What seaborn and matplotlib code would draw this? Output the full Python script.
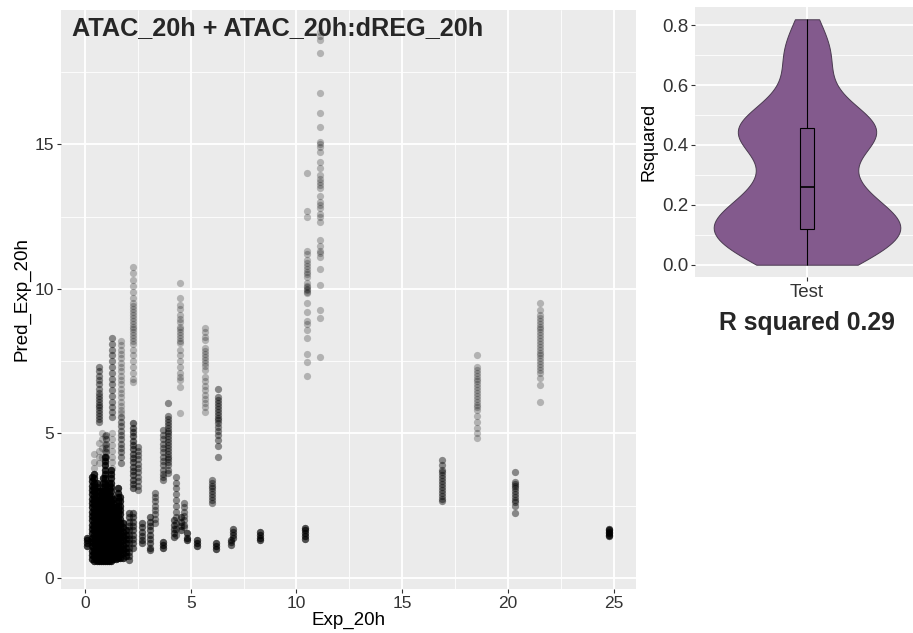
import matplotlib
matplotlib.use("Agg")
import matplotlib.pyplot as plt
from matplotlib.ticker import MultipleLocator
import numpy as np
import pandas as pd
import seaborn as sns

# columns of points: x position (Exp_20h), predicted values, stacked repeats
col_x = [
    0.10, 0.35, 0.45, 0.55, 0.65, 0.75, 0.85, 0.95, 1.05, 1.15, 1.25, 1.35,
    1.45, 1.55, 1.65, 1.80, 1.95,
    0.45, 0.80, 0.95,
    0.68, 0.68, 1.02, 1.29, 1.29, 1.69, 1.69, 2.10, 2.29, 2.29, 2.29,
    2.52, 2.68, 3.10, 3.31, 3.70, 3.70, 3.94, 4.20, 4.30, 4.49, 4.52, 4.70,
    4.81, 5.28, 5.67, 5.99, 6.18, 6.30, 6.90, 7.00, 8.30, 10.40, 10.48,
    11.10, 16.90, 18.52, 20.33, 21.50, 24.79,
]
col_y = [
    [1.1, 1.2, 1.3, 1.4],
    [0.65, 0.8, 0.95, 1.1, 1.25, 1.4, 1.55, 1.7, 1.85, 2.0, 2.15, 2.3, 2.45, 2.6, 2.75, 2.9, 3.05, 3.2, 3.35, 3.5],
    [0.6, 0.75, 0.9, 1.05, 1.2, 1.35, 1.5, 1.65, 1.8, 1.95, 2.1, 2.25, 2.4, 2.55, 2.7, 2.85, 3.0, 3.15, 3.3, 3.45, 3.6],
    [0.6, 0.75, 0.9, 1.05, 1.2, 1.35, 1.5, 1.65, 1.8, 1.95, 2.1, 2.25, 2.4, 2.55, 2.7, 2.85, 3.0, 3.15, 3.3],
    [0.6, 0.75, 0.9, 1.05, 1.2, 1.35, 1.5, 1.65, 1.8, 1.95, 2.1, 2.25, 2.4, 2.55, 2.7, 2.85, 3.0],
    [0.6, 0.75, 0.9, 1.05, 1.2, 1.35, 1.5, 1.65, 1.8, 1.95, 2.1, 2.25, 2.4, 2.55, 2.7],
    [0.6, 0.75, 0.9, 1.05, 1.2, 1.35, 1.5, 1.65, 1.8, 1.95, 2.1, 2.25, 2.4, 2.55, 2.7, 2.85, 3.0, 3.15, 3.3, 3.45],
    [0.6, 0.75, 0.9, 1.05, 1.2, 1.35, 1.5, 1.65, 1.8, 1.95, 2.1, 2.25, 2.4, 2.55, 2.7, 2.85, 3.0, 3.15, 3.3, 3.45, 3.6, 3.75, 3.9, 4.05, 4.2],
    [0.6, 0.75, 0.9, 1.05, 1.2, 1.35, 1.5, 1.65, 1.8, 1.95, 2.1, 2.25, 2.4, 2.55, 2.7, 2.85, 3.0],
    [0.6, 0.75, 0.9, 1.05, 1.2, 1.35, 1.5, 1.65, 1.8, 1.95, 2.1, 2.25, 2.4, 2.55, 2.7, 2.85, 3.0, 3.15, 3.3],
    [0.6, 0.75, 0.9, 1.05, 1.2, 1.35, 1.5, 1.65, 1.8, 1.95, 2.1, 2.25, 2.4, 2.55, 2.7, 2.85, 3.0, 3.15, 3.3, 3.45, 3.6, 3.75],
    [0.65, 0.8, 0.95, 1.1, 1.25, 1.4, 1.55, 1.7, 1.85, 2.0, 2.15, 2.3, 2.45, 2.6, 2.75],
    [0.65, 0.8, 0.95, 1.1, 1.25, 1.4, 1.55, 1.7, 1.85, 2.0, 2.15, 2.3, 2.45],
    [0.7, 0.85, 1.0, 1.15, 1.3, 1.45, 1.6, 1.75, 1.9, 2.05, 2.2, 2.35, 2.5, 2.65, 2.8, 2.95, 3.1],
    [0.7, 0.85, 1.0, 1.15, 1.3, 1.45, 1.6, 1.75, 1.9, 2.05, 2.2, 2.35, 2.5, 2.65, 2.8],
    [0.7, 0.85, 1.0, 1.15, 1.3, 1.45, 1.6, 1.75, 1.9],
    [0.75, 0.9, 1.05, 1.2, 1.35, 1.5, 1.65],
    [3.8, 4.0, 4.3],
    [4.2, 4.5, 4.8, 5.0],
    [4.4, 4.6, 4.9],
    [7.3, 7.15, 7.0, 6.85, 6.7, 6.55, 6.4, 6.3, 6.2, 6.1, 6.0, 5.9, 5.8, 5.7, 5.6, 5.5, 5.4],
    [4.67, 4.4, 4.2, 3.97],
    [4.95, 4.8, 4.65, 4.5, 4.35, 4.2],
    [8.3, 8.1, 7.9, 7.7, 7.5, 7.3, 7.1, 6.9, 6.7, 6.5, 6.3, 6.1, 5.9, 5.75, 5.57],
    [5.0, 4.8, 4.6, 4.4, 4.2, 4.0, 3.8],
    [8.2, 8.05, 7.9, 7.75, 7.6, 7.45, 7.3, 7.15, 7.0, 6.85, 6.7, 6.55, 6.4, 6.25, 6.1, 5.95, 5.8, 5.7],
    [5.57, 5.4, 5.25, 5.1, 4.95, 4.8, 4.65, 4.5, 4.35, 4.2, 3.97],
    [2.25, 2.1, 1.95, 1.8, 1.65, 1.5, 1.35, 1.2, 1.05, 0.9, 0.75, 0.62],
    [10.75, 10.55, 10.3, 10.1, 9.9, 9.7, 9.5, 9.4, 9.3, 9.2, 9.1, 9.0, 8.9, 8.8, 8.7, 8.6, 8.5, 8.4, 8.3, 8.2, 8.1, 7.9, 7.7, 7.5, 7.3, 7.1, 6.9, 6.78],
    [5.36, 5.2, 5.05, 4.9, 4.75, 4.6, 4.45, 4.3, 4.15, 4.0, 3.85, 3.7, 3.55, 3.4, 3.25, 3.1],
    [2.25, 2.1, 1.95, 1.8, 1.65, 1.5, 1.35, 1.2, 1.05],
    [4.53, 4.4, 4.25, 4.1, 3.95, 3.8, 3.65, 3.5, 3.35, 3.2, 3.04],
    [1.9, 1.75, 1.6, 1.45, 1.3, 1.2],
    [2.1, 1.95, 1.8, 1.65, 1.5, 1.35, 1.2, 1.05, 0.97],
    [2.94, 2.8, 2.65, 2.5, 2.35, 2.2, 2.05, 1.9],
    [5.12, 4.95, 4.8, 4.65, 4.5, 4.35, 4.2, 4.05, 3.9, 3.75, 3.6, 3.5, 3.39],
    [1.05, 1.15, 1.25],
    [6.05, 5.6, 5.5, 5.4, 5.3, 5.2, 5.1, 5.0, 4.9, 4.8, 4.7, 4.6, 4.5, 4.4, 4.3, 4.2, 4.1, 4.0, 3.9, 3.75, 3.63],
    [2.0, 1.85, 1.7, 1.55, 1.42],
    [3.5, 3.3, 3.1, 2.9, 2.7, 2.5, 2.3, 2.1, 1.9, 1.7, 1.5],
    [10.2, 9.69, 9.45, 9.3, 9.1, 8.95, 8.86, 8.69, 8.6, 8.5, 8.4, 8.3, 8.2, 8.13, 7.89, 7.7, 7.5, 7.3, 7.1, 6.95, 6.85, 6.6, 5.71],
    [2.1, 1.95, 1.8, 1.66],
    [2.6, 2.45, 2.3, 2.15, 2.0, 1.85, 1.76],
    [1.3, 1.4, 1.55],
    [1.1, 1.2, 1.3],
    [8.65, 8.5, 8.35, 8.24, 7.96, 7.85, 7.75, 7.65, 7.55, 7.45, 7.35, 7.2, 6.96, 6.8, 6.65, 6.5, 6.33, 6.2, 6.05, 5.9, 5.74],
    [3.39, 3.3, 3.2, 3.1, 3.0, 2.9, 2.8, 2.7, 2.6],
    [1.0, 1.1, 1.2],
    [6.54, 6.26, 6.15, 6.05, 5.95, 5.85, 5.75, 5.65, 5.55, 5.45, 5.36, 5.22, 5.1, 4.95, 4.78, 4.57, 4.19],
    [1.15, 1.25, 1.3],
    [1.4, 1.5, 1.6, 1.7],
    [1.3, 1.4, 1.5, 1.58],
    [1.35, 1.45, 1.55, 1.65, 1.72],
    [14.0, 12.7, 12.5, 11.3, 11.2, 11.0, 10.9, 10.8, 10.7, 10.6, 10.5, 10.4, 10.2, 10.1, 10.05, 10.0, 9.95, 9.9, 9.86, 9.5, 9.2, 8.9, 8.8, 8.58, 8.3, 7.75, 7.47, 7.0],
    [18.9, 18.75, 18.6, 18.17, 16.78, 16.1, 15.6, 15.1, 15.0, 14.9, 14.75, 14.4, 14.2, 13.95, 13.8, 13.7, 13.6, 13.5, 13.2, 13.0, 12.9, 12.8, 12.6, 12.5, 12.3, 11.7, 11.5, 11.3, 11.24, 11.1, 10.7, 10.14, 9.27, 9.0, 7.65],
    [4.08, 3.9, 3.75, 3.65, 3.55, 3.45, 3.35, 3.25, 3.15, 3.05, 2.95, 2.85, 2.75, 2.65],
    [7.72, 7.3, 7.2, 7.1, 7.0, 6.9, 6.8, 6.7, 6.6, 6.5, 6.4, 6.3, 6.2, 6.1, 6.0, 5.9, 5.8, 5.6, 5.4, 5.2, 5.0, 4.84],
    [3.67, 3.32, 3.25, 3.2, 3.1, 3.0, 2.9, 2.8, 2.7, 2.63, 2.5, 2.25],
    [9.5, 9.27, 9.1, 9.0, 8.9, 8.8, 8.7, 8.6, 8.5, 8.4, 8.3, 8.2, 8.1, 8.0, 7.9, 7.8, 7.7, 7.6, 7.5, 7.4, 7.3, 7.2, 7.1, 6.92, 6.68, 6.09],
    [1.45, 1.5, 1.55, 1.6, 1.65, 1.7],
]
col_n = [
    5, 6, 6, 6, 6, 6, 6, 6, 6, 6, 6, 6,
    6, 6, 6, 6, 5,
    1, 1, 1,
    2, 1, 2, 2, 1, 1, 2, 3, 1, 3, 3,
    2, 3, 3, 2, 2, 4, 2, 3, 2, 1, 3, 2,
    4, 4, 1, 2, 4, 2, 3, 3, 4, 4, 1,
    1, 2, 1, 2, 1, 4,
]

# per-fold R squared values for the violin
rsq = [0.0, 0.0, 0.01, 0.02, 0.03, 0.04, 0.06, 0.07, 0.08, 0.09, 0.10, 0.11, 0.115, 0.12,
       0.124, 0.13, 0.14, 0.145, 0.15, 0.16, 0.17, 0.18, 0.19, 0.20, 0.22, 0.24, 0.255,
       0.265, 0.28, 0.30, 0.33, 0.36, 0.38, 0.40, 0.41, 0.42, 0.43, 0.44, 0.445, 0.45,
       0.46, 0.47, 0.48, 0.49, 0.50, 0.52, 0.55, 0.58, 0.62, 0.67, 0.70, 0.72, 0.76, 0.82]

rows = []
for x, ys, n in zip(col_x, col_y, col_n):
    for _ in range(n):
        for y in ys:
            rows.append((x, y))
df = pd.DataFrame(rows, columns=["Exp_20h", "Pred_Exp_20h"])
df_r = pd.DataFrame({"group": ["Test"] * len(rsq), "Rsquared": rsq})

sns.set_theme(style="darkgrid", rc={
    "axes.facecolor": "#EBEBEB",
    "grid.color": "white",
    "axes.edgecolor": "#EBEBEB",
})
plt.rcParams["font.family"] = ["Liberation Sans", "DejaVu Sans"]

fig = plt.figure(figsize=(9.13, 6.33), dpi=100)
ax = fig.add_axes([61 / 913, 1 - 588.7 / 633, 575 / 913, 578.7 / 633])
ax2 = fig.add_axes([695 / 913, 1 - 277 / 633, 224 / 913, 270 / 633])

# scatter
sns.scatterplot(data=df, x="Exp_20h", y="Pred_Exp_20h", ax=ax, color="black",
                alpha=0.24, s=27, linewidth=0, zorder=3)
ax.set_xlim(-1.13, 26.05)
ax.set_ylim(-0.37, 19.65)
ax.xaxis.set_major_locator(MultipleLocator(5))
ax.yaxis.set_major_locator(MultipleLocator(5))
ax.xaxis.set_minor_locator(MultipleLocator(2.5))
ax.yaxis.set_minor_locator(MultipleLocator(2.5))
ax.grid(which="major", color="white", linewidth=1.3)
ax.grid(which="minor", color="white", linewidth=0.6)
ax.tick_params(axis="both", which="major", length=3, width=0.8, color="#333333",
               labelsize=12.5, labelcolor="#333333", pad=2, bottom=True, left=True)
ax.tick_params(which="minor", length=0)
ax.set_xlabel("Exp_20h", fontsize=13.5, color="black", labelpad=1)
ax.set_ylabel("Pred_Exp_20h", fontsize=13.5, color="black", labelpad=3)
for sp in ax.spines.values():
    sp.set_visible(False)
ax.text(0.019, 0.969, "ATAC_20h + ATAC_20h:dREG_20h", transform=ax.transAxes,
        fontsize=18.2, fontweight="bold", ha="left", va="center", zorder=5)

# violin with box
purple = "#835A8D"
sns.violinplot(data=df_r, x="group", y="Rsquared", ax=ax2, cut=0, inner=None,
               width=1.0, color=purple, saturation=1, linewidth=0.7,
               linecolor="#4a3a50", bw_adjust=0.7, zorder=3)
sns.boxplot(data=df_r, x="group", y="Rsquared", ax=ax2, width=0.075,
            color="#7A5285", saturation=1, linecolor="black", linewidth=0.8,
            showcaps=False, showfliers=False, zorder=4,
            medianprops={"color": "black", "linewidth": 1.2})
ax2.set_xlim(-0.6, 0.6)
ax2.set_ylim(-0.041, 0.861)
ax2.yaxis.set_major_locator(MultipleLocator(0.2))
ax2.yaxis.set_minor_locator(MultipleLocator(0.1))
ax2.grid(which="major", color="white", linewidth=1.3)
ax2.grid(which="minor", axis="y", color="white", linewidth=0.6)
ax2.tick_params(axis="both", which="major", length=3, width=0.8, color="#333333",
                labelsize=13.5, labelcolor="#333333", pad=2, bottom=True, left=True)
ax2.tick_params(which="minor", length=0)
ax2.set_xlabel("")
ax2.set_ylabel("Rsquared", fontsize=13, color="black", labelpad=3)
for sp in ax2.spines.values():
    sp.set_visible(False)

fig.text(807 / 913, 1 - 323 / 633, "R squared 0.29", fontsize=17.8,
         fontweight="bold", ha="center", va="center")

fig.savefig("out.png", dpi=100)
